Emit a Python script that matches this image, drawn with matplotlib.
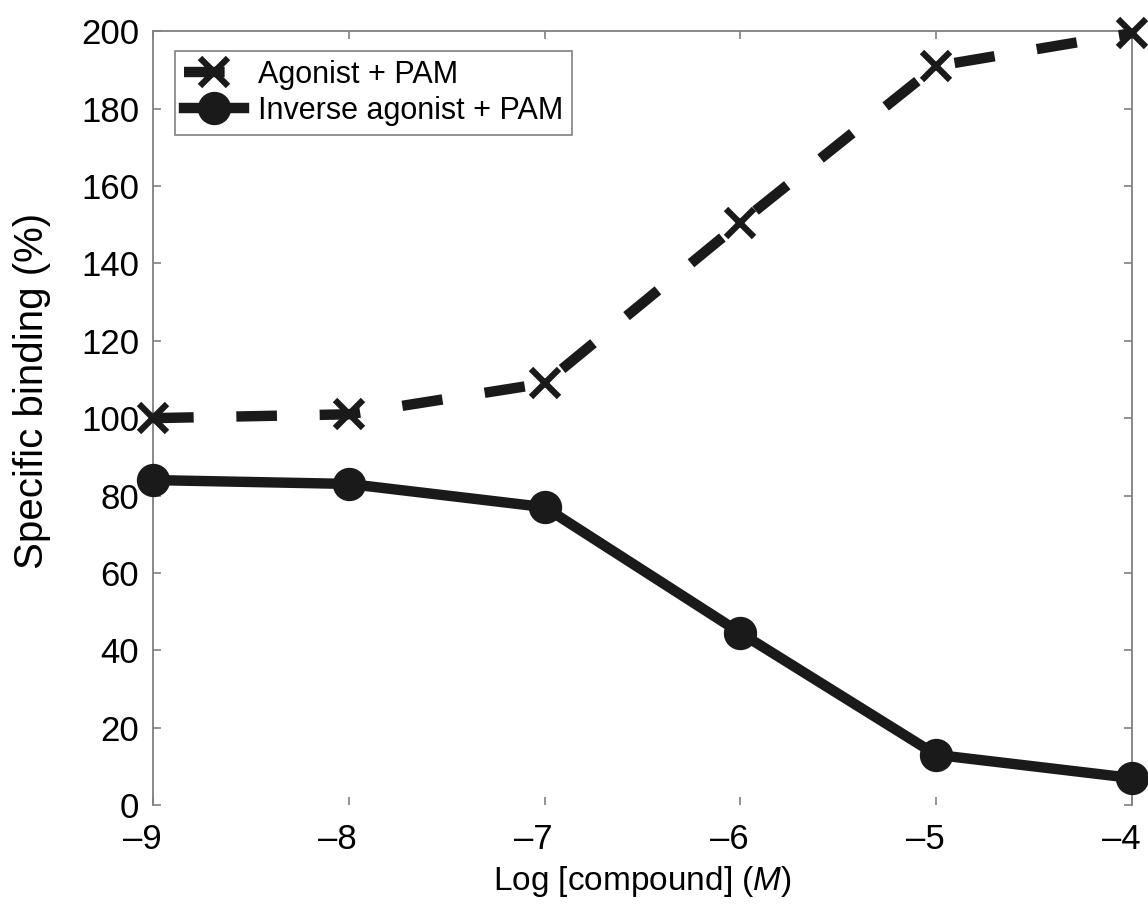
import matplotlib
matplotlib.use("Agg")
import matplotlib.pyplot as plt
from matplotlib.transforms import ScaledTranslation

plt.rcParams['font.family'] = ['Liberation Sans', 'DejaVu Sans']
plt.rcParams['mathtext.fontset'] = 'custom'
plt.rcParams['mathtext.rm'] = 'Liberation Sans'
plt.rcParams['mathtext.it'] = 'Liberation Sans:italic'

# data
log_conc = [-9, -8, -7, -6, -5, -4]
agonist_pam = [100, 101, 109, 150.5, 191, 199.5]
inverse_pam = [84, 83, 77, 44.5, 13, 7]
x_ticks = [-9, -8, -7, -6, -5, -4]
x_ticklabels = ['\u20139', '\u20138', '\u20137', '\u20136', '\u20135', '\u20134']
y_ticks = [0, 20, 40, 60, 80, 100, 120, 140, 160, 180, 200]

fig = plt.figure(figsize=(11.48, 9.18), dpi=100)
ax = fig.add_axes([0.1333, 0.123, 0.8527, 0.843])

ax.plot(log_conc, agonist_pam, color='#1a1a1a', lw=7.5, ls=(0, (3.9, 4.1)),
        marker='x', ms=20, mew=4.5, clip_on=False, zorder=3,
        label='Agonist + PAM')
ax.plot(log_conc, inverse_pam, color='#1a1a1a', lw=7.5, ls='-',
        marker='o', ms=23, clip_on=False, zorder=3,
        label='Inverse agonist + PAM')

ax.set_xlim(-9, -4)
ax.set_ylim(0, 200)
ax.set_xticks(x_ticks)
ax.set_xticklabels(x_ticklabels)
ax.set_yticks(y_ticks)

for side in ['left', 'right', 'top']:
    ax.spines[side].set_color('#808080')
    ax.spines[side].set_linewidth(1.3)
ax.spines['bottom'].set_visible(False)

ax.tick_params(axis='both', direction='in', length=6, width=1.2, color='#808080',
               labelsize=25, top=True, right=True)
ax.tick_params(axis='x', pad=13)
ax.tick_params(axis='y', pad=10)

# labels in the source sit a little left of their ticks
shift = ScaledTranslation(-0.11, 0, fig.dpi_scale_trans)
for lab in ax.get_xticklabels():
    lab.set_transform(lab.get_transform() + shift)

ax.set_xlabel('Log [compound] ($\\it{M}$)', fontsize=24, labelpad=6)
ax.set_ylabel('Specific binding (%)', fontsize=29)
ax.yaxis.set_label_coords(-0.104, 0.535)

leg = ax.legend(loc='upper left', bbox_to_anchor=(0.0225, 0.975), borderaxespad=0,
                fontsize=22, handlelength=1.95, handletextpad=0.45, labelspacing=0.2,
                borderpad=0.3, fancybox=False, framealpha=1, edgecolor='#808080')
leg.get_frame().set_linewidth(1.2)

fig.savefig('out.png', dpi=100)
